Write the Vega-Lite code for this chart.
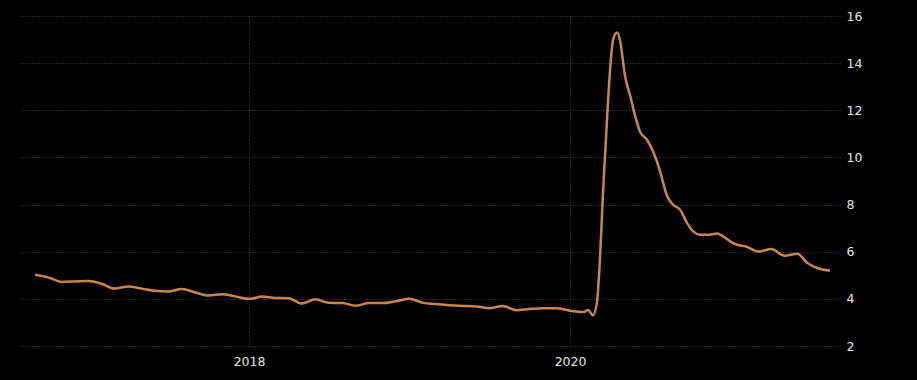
{
  "$schema": "https://vega.github.io/schema/vega-lite/v6.json",
  "width": 820,
  "height": 330,
  "autosize": {"type": "none"},
  "padding": {"left": 20, "top": 16, "right": 77, "bottom": 34},
  "background": "#000000",
  "config": {"view": {"stroke": null}},
  "data": {
    "values": [
      {"date": "2016-09-01", "rate": 5.02},
      {"date": "2016-10-01", "rate": 4.91},
      {"date": "2016-11-01", "rate": 4.72},
      {"date": "2016-12-01", "rate": 4.74},
      {"date": "2017-01-01", "rate": 4.76},
      {"date": "2017-02-01", "rate": 4.63},
      {"date": "2017-03-01", "rate": 4.44},
      {"date": "2017-04-01", "rate": 4.52},
      {"date": "2017-05-01", "rate": 4.44},
      {"date": "2017-06-01", "rate": 4.34},
      {"date": "2017-07-01", "rate": 4.31},
      {"date": "2017-08-01", "rate": 4.42},
      {"date": "2017-09-01", "rate": 4.27},
      {"date": "2017-10-01", "rate": 4.14},
      {"date": "2017-11-01", "rate": 4.2},
      {"date": "2017-12-01", "rate": 4.1},
      {"date": "2018-01-01", "rate": 4.0},
      {"date": "2018-02-01", "rate": 4.1},
      {"date": "2018-03-01", "rate": 4.04},
      {"date": "2018-04-01", "rate": 4.03},
      {"date": "2018-05-01", "rate": 3.8},
      {"date": "2018-06-01", "rate": 3.98},
      {"date": "2018-07-01", "rate": 3.83},
      {"date": "2018-08-01", "rate": 3.82},
      {"date": "2018-09-01", "rate": 3.71},
      {"date": "2018-10-01", "rate": 3.82},
      {"date": "2018-11-01", "rate": 3.82},
      {"date": "2018-12-01", "rate": 3.9},
      {"date": "2019-01-01", "rate": 4.0},
      {"date": "2019-02-01", "rate": 3.83},
      {"date": "2019-03-01", "rate": 3.78},
      {"date": "2019-04-01", "rate": 3.73},
      {"date": "2019-05-01", "rate": 3.7},
      {"date": "2019-06-01", "rate": 3.68},
      {"date": "2019-07-01", "rate": 3.6},
      {"date": "2019-08-01", "rate": 3.7},
      {"date": "2019-09-01", "rate": 3.52},
      {"date": "2019-10-01", "rate": 3.57},
      {"date": "2019-11-01", "rate": 3.6},
      {"date": "2019-12-01", "rate": 3.6},
      {"date": "2020-01-01", "rate": 3.5},
      {"date": "2020-02-01", "rate": 3.44},
      {"date": "2020-02-11", "rate": 3.53},
      {"date": "2020-02-22", "rate": 3.3},
      {"date": "2020-03-02", "rate": 3.83},
      {"date": "2020-03-09", "rate": 5.66},
      {"date": "2020-03-16", "rate": 8.5},
      {"date": "2020-03-25", "rate": 11.6},
      {"date": "2020-04-01", "rate": 13.7},
      {"date": "2020-04-08", "rate": 15.0},
      {"date": "2020-04-17", "rate": 15.3},
      {"date": "2020-04-24", "rate": 14.95},
      {"date": "2020-05-05", "rate": 13.46},
      {"date": "2020-05-17", "rate": 12.6},
      {"date": "2020-05-28", "rate": 11.76},
      {"date": "2020-06-08", "rate": 11.1},
      {"date": "2020-06-24", "rate": 10.75},
      {"date": "2020-07-08", "rate": 10.25},
      {"date": "2020-07-24", "rate": 9.4},
      {"date": "2020-08-09", "rate": 8.35},
      {"date": "2020-08-22", "rate": 8.0},
      {"date": "2020-09-07", "rate": 7.79},
      {"date": "2020-09-23", "rate": 7.22},
      {"date": "2020-10-07", "rate": 6.86},
      {"date": "2020-10-23", "rate": 6.72},
      {"date": "2020-11-08", "rate": 6.72},
      {"date": "2020-12-01", "rate": 6.77},
      {"date": "2020-12-14", "rate": 6.65},
      {"date": "2021-01-01", "rate": 6.42},
      {"date": "2021-01-14", "rate": 6.3},
      {"date": "2021-02-04", "rate": 6.22},
      {"date": "2021-03-05", "rate": 6.01},
      {"date": "2021-04-03", "rate": 6.11},
      {"date": "2021-05-03", "rate": 5.83},
      {"date": "2021-06-01", "rate": 5.91},
      {"date": "2021-06-24", "rate": 5.52},
      {"date": "2021-07-16", "rate": 5.31},
      {"date": "2021-08-14", "rate": 5.2}
    ]
  },
  "mark": {"type": "line", "color": "#c98650", "strokeWidth": 2.5, "interpolate": "monotone"},
  "encoding": {
    "x": {
      "field": "date",
      "type": "temporal",
      "scale": {
        "type": "utc",
        "domain": [
          {"year": 2016, "month": 7, "date": 29, "utc": true},
          {"year": 2021, "month": 9, "date": 6, "utc": true}
        ]
      },
      "axis": {
        "title": null,
        "values": [
          {"year": 2018, "month": 1, "date": 1, "utc": true},
          {"year": 2020, "month": 1, "date": 1, "utc": true}
        ],
        "format": "%Y",
        "domain": false,
        "ticks": false,
        "labelPadding": 9,
        "labelColor": "#e6e6e6",
        "labelFont": "DejaVu Sans",
        "labelFontSize": 12.5,
        "grid": true,
        "gridColor": "#4a4a4a",
        "gridDash": [1, 2],
        "gridWidth": 1
      }
    },
    "y": {
      "field": "rate",
      "type": "quantitative",
      "scale": {"domain": [2, 16], "nice": false, "zero": false},
      "axis": {
        "title": null,
        "orient": "right",
        "values": [2, 4, 6, 8, 10, 12, 14, 16],
        "domain": false,
        "ticks": false,
        "labelPadding": 6,
        "labelColor": "#e6e6e6",
        "labelFont": "DejaVu Sans",
        "labelFontSize": 12.5,
        "grid": true,
        "gridColor": "#4a4a4a",
        "gridDash": [1, 2],
        "gridWidth": 1
      }
    }
  }
}
